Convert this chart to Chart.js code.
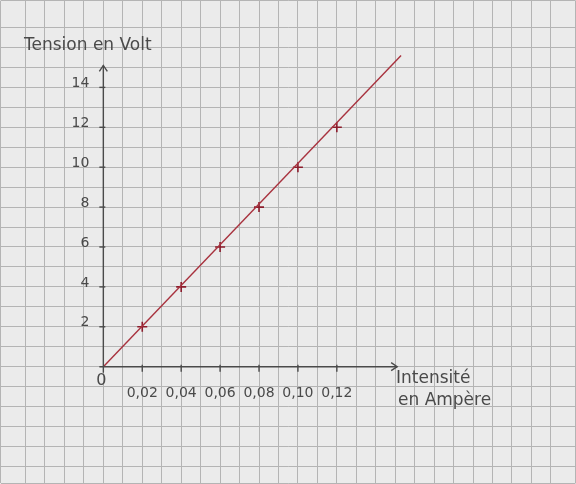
<!DOCTYPE html>
<html>
<head>
<meta charset="utf-8">
<script src="https://cdn.jsdelivr.net/npm/chart.js@4"></script>
<style>
  html, body { margin: 0; padding: 0; background: #ebebeb; overflow: hidden; }
  #wrap { width: 588px; height: 496px; margin: -6px 0 0 -6px; }
</style>
</head>
<body>
<div id="wrap"><canvas id="c" width="588" height="496"></canvas></div>
<script>
const intensity = [0.02, 0.04, 0.06, 0.08, 0.10, 0.12];
const tension = [2, 4, 6, 8, 10, 12];
const xTickLabels = ["0,02", "0,04", "0,06", "0,08", "0,10", "0,12"];
const yTickLabels = ["2", "4", "6", "8", "10", "12", "14"];
const yTickValues = [2, 4, 6, 8, 10, 12, 14];
const lineX = [0, 0.153];
const lineY = [0, 15.6];

const ink = "#4a4a4a";
const hand = "'DejaVu Sans', sans-serif";
const OFF = 6; // canvas is shifted by this much so the grid fills the window

// Axes, arrows, tick labels and titles drawn by hand on top of the grid
const axesPlugin = {
  id: "axes",
  afterDatasetsDraw(chart) {
    const { ctx, scales: { x, y } } = chart;
    const x0 = x.getPixelForValue(0);
    const y0 = y.getPixelForValue(0);
    ctx.save();
    ctx.strokeStyle = ink;
    ctx.lineWidth = 1.4;
    ctx.beginPath();
    ctx.moveTo(x0, y0 + 6);
    ctx.lineTo(x0, y.getPixelForValue(15.1));
    ctx.moveTo(x0 - 4, y0);
    ctx.lineTo(x.getPixelForValue(0.151), y0);
    ctx.stroke();

    // arrow heads
    const ty = y.getPixelForValue(15.1);
    ctx.beginPath();
    ctx.moveTo(x0 - 4, ty + 6);
    ctx.lineTo(x0, ty);
    ctx.lineTo(x0 + 4, ty + 6);
    const tx = x.getPixelForValue(0.151);
    ctx.moveTo(tx - 6, y0 - 4);
    ctx.lineTo(tx, y0);
    ctx.lineTo(tx - 6, y0 + 4);
    ctx.stroke();

    ctx.fillStyle = ink;
    ctx.font = "14px " + hand;
    ctx.textBaseline = "middle";

    ctx.textAlign = "right";
    yTickValues.forEach((v, i) => {
      const py = y.getPixelForValue(v);
      ctx.beginPath();
      ctx.moveTo(x0 - 4, py);
      ctx.lineTo(x0 + 2, py);
      ctx.stroke();
      ctx.fillText(yTickLabels[i], x0 - 14, py - 4);
    });

    ctx.textAlign = "center";
    intensity.forEach((v, i) => {
      const px = x.getPixelForValue(v);
      ctx.beginPath();
      ctx.moveTo(px, y0 - 2);
      ctx.lineTo(px, y0 + 5);
      ctx.stroke();
      ctx.fillText(xTickLabels[i], px, y0 + 27);
    });
    ctx.font = "16px " + hand;
    ctx.fillText("0", x0 - 2, y0 + 14);

    ctx.font = "17px " + hand;
    ctx.textAlign = "left";
    ctx.fillText("Tension en Volt", 24 + OFF, 46 + OFF);
    ctx.fillText("Intensité", 396 + OFF, y0 + 12);
    ctx.fillText("en Ampère", 398 + OFF, y0 + 34);
    ctx.restore();
  }
};

new Chart(document.getElementById("c"), {
  type: "scatter",
  data: {
    datasets: [
      {
        data: lineX.map((v, i) => ({ x: v, y: lineY[i] })),
        showLine: true,
        borderColor: "#a8323e",
        borderWidth: 1.4,
        pointRadius: 0
      },
      {
        data: intensity.map((v, i) => ({ x: v, y: tension[i] })),
        pointStyle: "cross",
        pointRadius: 5,
        borderColor: "#8c1c2c",
        borderWidth: 1.6
      }
    ]
  },
  plugins: [axesPlugin],
  options: {
    responsive: false,
    animation: false,
    plugins: { legend: { display: false }, tooltip: { enabled: false } },
    scales: {
      x: {
        type: "linear",
        min: -0.0528,
        max: 0.2426,
        ticks: { display: false, stepSize: 0.01 },
        grid: { color: "#b4b4b4", lineWidth: 1, drawTicks: false },
        border: { display: false }
      },
      y: {
        type: "linear",
        min: -5.85,
        max: 18.35,
        ticks: { display: false, stepSize: 1 },
        grid: { color: "#b4b4b4", lineWidth: 1, drawTicks: false },
        border: { display: false }
      }
    }
  }
});
</script>
</body>
</html>
